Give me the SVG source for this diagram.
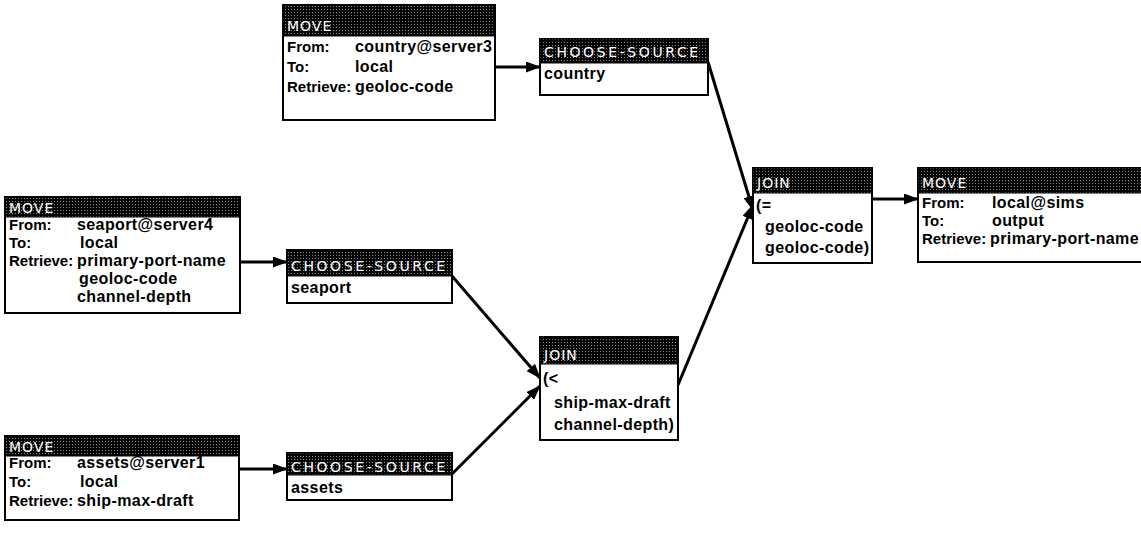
<svg xmlns="http://www.w3.org/2000/svg" width="1141" height="554" viewBox="0 0 1141 554">
<defs>
<pattern id="stip" patternUnits="userSpaceOnUse" width="3" height="3">
<rect width="3" height="3" fill="#050505"/>
<rect x="0" y="0" width="1" height="1" fill="#8a8a8a"/>
</pattern>
<marker id="ah" markerUnits="userSpaceOnUse" markerWidth="15" markerHeight="11" refX="14" refY="5.5" orient="auto">
<path d="M0,0 L15,5.5 L0,11 z" fill="#000"/>
</marker>
<style>
.box{fill:#fff;stroke:#000;stroke-width:2}
.hdr{fill:url(#stip);stroke:#000;stroke-width:1}
.ht{font-family:"DejaVu Sans",sans-serif;font-size:14px;fill:#fff;letter-spacing:1px}
.cs{letter-spacing:2.6px}
.bt{font-family:"Liberation Sans",Arial,sans-serif;font-weight:bold;font-size:16px;fill:#000;letter-spacing:0.4px}
.lb{font-size:15px;letter-spacing:0}
.edge{stroke:#000;stroke-width:3;fill:none;marker-end:url(#ah)}
</style>
</defs>
<rect width="1141" height="554" fill="#fff"/>

<g id="connectors">
<path class="edge" d="M495,67 L540,67"/>
<path class="edge" d="M240,262 L287,262"/>
<path class="edge" d="M239,469 L287,469"/>
<path class="edge" d="M708,62 L753,210"/>
<path class="edge" d="M452,276 L540,378"/>
<path class="edge" d="M452,474 L540,386"/>
<path class="edge" d="M678,385 L753,205"/>
<path class="edge" d="M872,199 L918,199"/>
</g>

<g id="move-country">
<rect class="box" x="283" y="5" width="212" height="115"/>
<rect class="hdr" x="283" y="5" width="212" height="31"/>
<text class="ht" x="287" y="31">MOVE</text>
<text class="bt lb" x="287" y="52">From:</text><text class="bt" x="355" y="52">country@server3</text>
<text class="bt lb" x="287" y="72">To:</text><text class="bt" x="355" y="72">local</text>
<text class="bt lb" x="287" y="92">Retrieve:</text><text class="bt" x="355" y="92">geoloc-code</text>
</g>

<g id="cs-country">
<rect class="box" x="540" y="39" width="168" height="56"/>
<rect class="hdr" x="540" y="39" width="168" height="24"/>
<text class="ht cs" x="544" y="57">CHOOSE-SOURCE</text>
<text class="bt" x="544" y="79">country</text>
</g>

<g id="move-seaport">
<rect class="box" x="5" y="197" width="235" height="116"/>
<rect class="hdr" x="5" y="197" width="235" height="20"/>
<text class="ht" x="9" y="213">MOVE</text>
<text class="bt lb" x="9" y="230">From:</text><text class="bt" x="77" y="230">seaport@server4</text>
<text class="bt lb" x="9" y="248">To:</text><text class="bt" x="80" y="248">local</text>
<text class="bt lb" x="9" y="266">Retrieve:</text><text class="bt" x="77" y="266">primary-port-name</text>
<text class="bt" x="79" y="284">geoloc-code</text>
<text class="bt" x="77" y="302">channel-depth</text>
</g>

<g id="cs-seaport">
<rect class="box" x="287" y="250" width="165" height="53"/>
<rect class="hdr" x="287" y="250" width="165" height="26"/>
<text class="ht cs" x="291" y="271">CHOOSE-SOURCE</text>
<text class="bt" x="291" y="293">seaport</text>
</g>

<g id="move-assets">
<rect class="box" x="5" y="436" width="234" height="84"/>
<rect class="hdr" x="5" y="436" width="234" height="20"/>
<text class="ht" x="9" y="452">MOVE</text>
<text class="bt lb" x="9" y="468">From:</text><text class="bt" x="77" y="468">assets@server1</text>
<text class="bt lb" x="9" y="487">To:</text><text class="bt" x="80" y="487">local</text>
<text class="bt lb" x="9" y="506">Retrieve:</text><text class="bt" x="77" y="506">ship-max-draft</text>
</g>

<g id="cs-assets">
<rect class="box" x="287" y="453" width="165" height="47"/>
<rect class="hdr" x="287" y="453" width="165" height="22"/>
<text class="ht cs" x="291" y="472">CHOOSE-SOURCE</text>
<text class="bt" x="291" y="493">assets</text>
</g>

<g id="join-bottom">
<rect class="box" x="540" y="337" width="138" height="103"/>
<rect class="hdr" x="540" y="337" width="138" height="27"/>
<text class="ht" x="544" y="360">JOIN</text>
<text class="bt" x="543" y="384">(&lt;</text>
<text class="bt" x="554" y="408">ship-max-draft</text>
<text class="bt" x="554" y="430">channel-depth)</text>
</g>

<g id="join-right">
<rect class="box" x="753" y="168" width="119" height="95"/>
<rect class="hdr" x="753" y="168" width="119" height="25"/>
<text class="ht" x="757" y="188">JOIN</text>
<text class="bt" x="756" y="211">(=</text>
<text class="bt" x="765" y="232">geoloc-code</text>
<text class="bt" x="765" y="253">geoloc-code)</text>
</g>

<g id="move-output">
<rect class="box" x="918" y="168" width="240" height="94"/>
<rect class="hdr" x="918" y="168" width="240" height="25"/>
<text class="ht" x="922" y="188">MOVE</text>
<text class="bt lb" x="922" y="208">From:</text><text class="bt" x="992" y="208">local@sims</text>
<text class="bt lb" x="922" y="226">To:</text><text class="bt" x="992" y="226">output</text>
<text class="bt lb" x="922" y="244">Retrieve:</text><text class="bt" x="990" y="244">primary-port-name</text>
</g>
</svg>
